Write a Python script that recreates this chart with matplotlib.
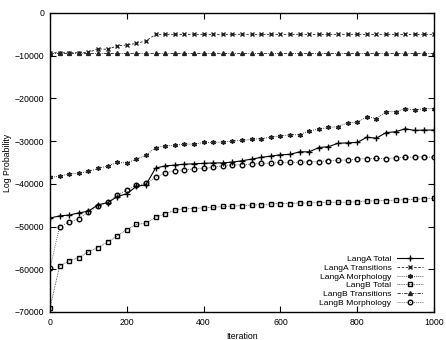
import matplotlib
matplotlib.use("Agg")
import matplotlib.pyplot as plt

plt.rcParams['font.family'] = ['Liberation Sans', 'DejaVu Sans']

iterations = list(range(0, 1001, 25))

langa_total = [-48000, -47500, -47300, -46800, -46400, -44900, -44400, -43000, -42300, -40600,
               -40200, -36300, -35800, -35600, -35400, -35300, -35200, -35100, -35100, -34900,
               -34600, -34200, -33800, -33500, -33200, -33100, -32500, -32500, -31500, -31300,
               -30500, -30400, -30300, -29100, -29300, -28000, -27800, -27100, -27500, -27400,
               -27400]
langa_trans = [-9300, -9300, -9300, -9300, -9200, -8400, -8500, -7700, -7500, -7100,
               -6550, -5000, -5000, -5000, -5000, -5000, -5000, -5000, -5000, -5000,
               -5000, -5000, -5000, -5000, -5000, -5000, -5000, -5000, -5000, -5000,
               -5000, -5000, -5000, -5000, -5000, -5000, -5000, -5000, -5000, -5000,
               -5000]
langa_morph = [-38500, -38200, -37700, -37500, -37100, -36400, -35800, -35000, -35100, -34200,
               -33300, -31500, -31100, -31000, -30700, -30700, -30300, -30300, -30200, -30000,
               -29800, -29600, -29400, -29100, -28800, -28500, -28500, -27600, -27200, -26800,
               -26600, -25700, -25600, -24300, -24700, -23100, -23100, -22400, -22700, -22400,
               -22400]
langb_total = [-69000, -59300, -58000, -57300, -55900, -54900, -53600, -52200, -50700, -49500,
               -49200, -47800, -47000, -46200, -45800, -45800, -45600, -45500, -45300, -45200,
               -45100, -45000, -44900, -44700, -44600, -44600, -44500, -44500, -44400, -44300,
               -44300, -44300, -44200, -44000, -44000, -43900, -43800, -43700, -43600, -43500,
               -43400]
langb_trans = [-9300, -9300, -9300, -9300, -9300, -9300, -9300, -9300, -9300, -9300,
               -9300, -9300, -9300, -9300, -9300, -9300, -9300, -9300, -9300, -9300,
               -9300, -9300, -9300, -9300, -9300, -9300, -9300, -9300, -9300, -9300,
               -9300, -9300, -9300, -9300, -9300, -9300, -9300, -9300, -9300, -9300,
               -9300]
langb_morph = [-59800, -50000, -49000, -48200, -46600, -45300, -44300, -42700, -41400, -40300,
               -39900, -38500, -37400, -36900, -36700, -36500, -36400, -36100, -35740, -35580,
               -35510, -35350, -35190, -35190, -34960, -34960, -34960, -34800, -34800, -34570,
               -34490, -34410, -34180, -34100, -34020, -34100, -33870, -33790, -33710, -33710,
               -33790]

fig = plt.figure(figsize=(4.46, 3.40), dpi=100)
ax = fig.add_axes([50 / 446, 1 - 312 / 340, 384 / 446, 299 / 340])

lw = 0.6
ms = 3.3
ax.plot(iterations, langa_total, color='black', linestyle='-', marker='+', lw=lw + 0.2, ms=ms + 1, label='LangA Total')
ax.plot(iterations, langa_trans, color='#222222', linestyle=(0, (3, 2)), marker='x', lw=lw, ms=ms, label='LangA Transitions')
ax.plot(iterations, langa_morph, color='#222222', linestyle=(0, (1, 1.5)), marker=(6, 2, 0), lw=lw, ms=ms, label='LangA Morphology')
ax.plot(iterations, langb_total, color='#444444', linestyle=(0, (1, 1)), marker='s', mfc='none', mec='black', lw=lw, ms=ms, label='LangB Total')
ax.plot(iterations, langb_trans, color='#222222', linestyle=(0, (4, 1.5, 1, 1.5)), marker='^', lw=lw, ms=ms - 0.5, label='LangB Transitions')
ax.plot(iterations, langb_morph, color='#444444', linestyle=(0, (1, 1.5)), marker='o', mfc='none', mec='black', lw=lw, ms=ms, label='LangB Morphology')

ax.set_xlim(0, 1000)
ax.set_ylim(-70000, 0)
ax.set_xticks(range(0, 1001, 200))
ax.set_yticks(range(-70000, 1, 10000))
ax.tick_params(direction='in', top=True, right=True, length=4, width=0.8, labelsize=6.3, pad=4)
for s in ax.spines.values():
    s.set_linewidth(1.0)

ax.set_xlabel('Iteration', fontsize=6.3, labelpad=4)
ax.set_ylabel('Log Probability', fontsize=6.3, labelpad=2)

ax.legend(loc='lower right', bbox_to_anchor=(0.984, 0.0), frameon=False, markerfirst=False, fontsize=6.1,
          handlelength=3.1, labelspacing=0.1, borderaxespad=0.3, borderpad=0.3, handletextpad=0.6)

fig.savefig('out.png', dpi=100)
